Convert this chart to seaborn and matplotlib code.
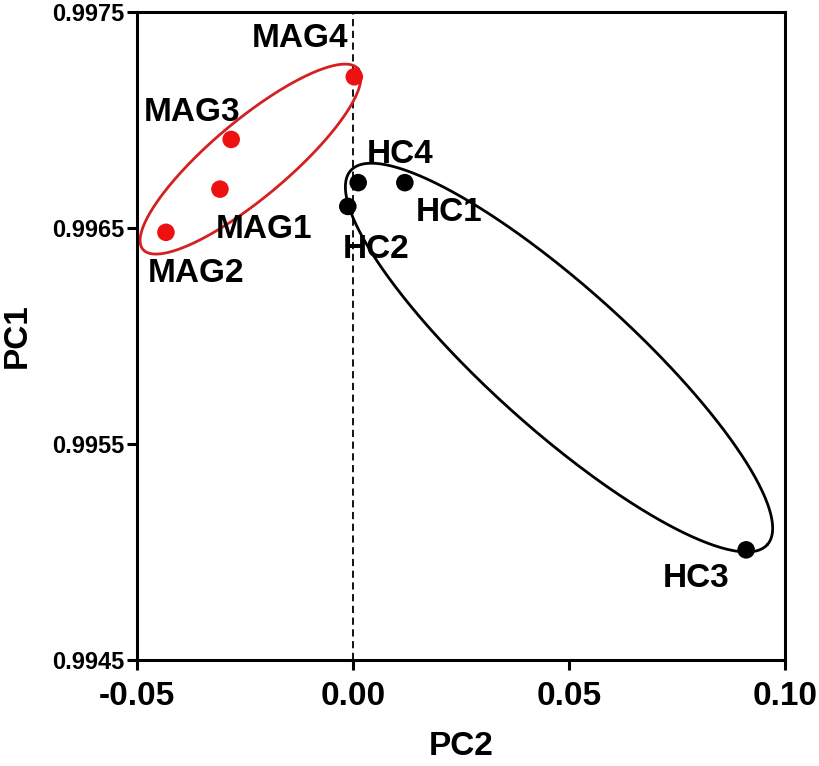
import numpy as np
import pandas as pd
import seaborn as sns
import matplotlib
matplotlib.use("Agg")
import matplotlib.pyplot as plt

# -- values
sample_names = ["MAG1", "MAG2", "MAG3", "MAG4", "HC1", "HC2", "HC3", "HC4"]
groups = ["MAG", "MAG", "MAG", "MAG", "HC", "HC", "HC", "HC"]
pc2_values = [-0.0308, -0.0433, -0.0282, 0.0003, 0.0120, -0.0012, 0.0910, 0.0012]
pc1_values = [0.99668, 0.99648, 0.99691, 0.99720, 0.99671, 0.99660, 0.99501, 0.99671]

x_ticks = [-0.05, 0.00, 0.05, 0.10]
y_ticks = [0.9945, 0.9955, 0.9965, 0.9975]

# hand drawn group outlines (data units):
# centre (PC2, PC1), major semi-axis vector, minor semi-axis vector
outline_center = {"MAG": (-0.02373, 0.996819), "HC": (0.04769, 0.995900)}
outline_major = {"MAG": (0.02491, 0.000418), "HC": (0.04822, -0.000866)}
outline_minor = {"MAG": (0.00573, -0.0001366), "HC": (0.01098, 0.0002446)}

palette = {"MAG": "#ee1111", "HC": "black"}
ellipse_colors = {"MAG": "#d42020", "HC": "black"}

# label offsets in pixels (dx, dy) relative to the point
label_offsets = {
    "MAG1": (44, -40), "MAG2": (30, -41), "MAG3": (-39, 27), "MAG4": (-54, 38),
    "HC1": (44, -30), "HC2": (28, -43), "HC3": (-50, -29), "HC4": (42, 28),
}

df = pd.DataFrame({"sample": sample_names, "group": groups,
                   "PC2": pc2_values, "PC1": pc1_values})

sns.set_style("ticks")
plt.rcParams["font.family"] = ["Liberation Sans", "DejaVu Sans"]
plt.rcParams["font.weight"] = "bold"
plt.rcParams["text.color"] = "black"
plt.rcParams["axes.labelcolor"] = "black"
plt.rcParams["axes.edgecolor"] = "black"
plt.rcParams["xtick.color"] = "black"
plt.rcParams["ytick.color"] = "black"

fig = plt.figure(figsize=(8.2, 7.66), dpi=100)
ax = fig.add_axes([137 / 820, 1 - 660 / 766, 648 / 820, 648 / 766])

ax.axvline(0, color="black", lw=1.3, ls=(0, (4, 2.5)), zorder=1)

# group outlines
t = np.linspace(0, 2 * np.pi, 400)
for grp in ["MAG", "HC"]:
    cx, cy = outline_center[grp]
    mx, my = outline_major[grp]
    nx, ny = outline_minor[grp]
    ex = cx + mx * np.cos(t) + nx * np.sin(t)
    ey = cy + my * np.cos(t) + ny * np.sin(t)
    ax.plot(ex, ey, color=ellipse_colors[grp], lw=2.0, zorder=2)

sns.scatterplot(data=df, x="PC2", y="PC1", hue="group", palette=palette,
                s=160, edgecolor="none", legend=False, ax=ax, zorder=3)

for name, xv, yv in zip(sample_names, pc2_values, pc1_values):
    dx, dy = label_offsets[name]
    ax.annotate(name, (xv, yv), xytext=(dx, dy), textcoords="offset pixels",
                ha="center", va="center", fontsize=24, fontweight="bold")

ax.set_xlim(-0.05, 0.10)
ax.set_ylim(0.9945, 0.9975)
ax.set_xticks(x_ticks)
ax.set_xticklabels(["%.2f" % v for v in x_ticks], fontsize=24, fontweight="bold")
ax.set_yticks(y_ticks)
ax.set_yticklabels(["%.4f" % v for v in y_ticks], fontsize=17, fontweight="bold")

ax.set_xlabel("PC2", fontsize=24, fontweight="bold", labelpad=14)
ax.set_ylabel("PC1", fontsize=24, fontweight="bold", labelpad=14)

for side in ["left", "bottom", "top", "right"]:
    ax.spines[side].set_linewidth(2.2)
    ax.spines[side].set_visible(True)
ax.tick_params(axis="both", direction="out", length=7, width=2.2, pad=2)
ax.tick_params(axis="x", pad=8)

fig.savefig("out.png", dpi=100)
